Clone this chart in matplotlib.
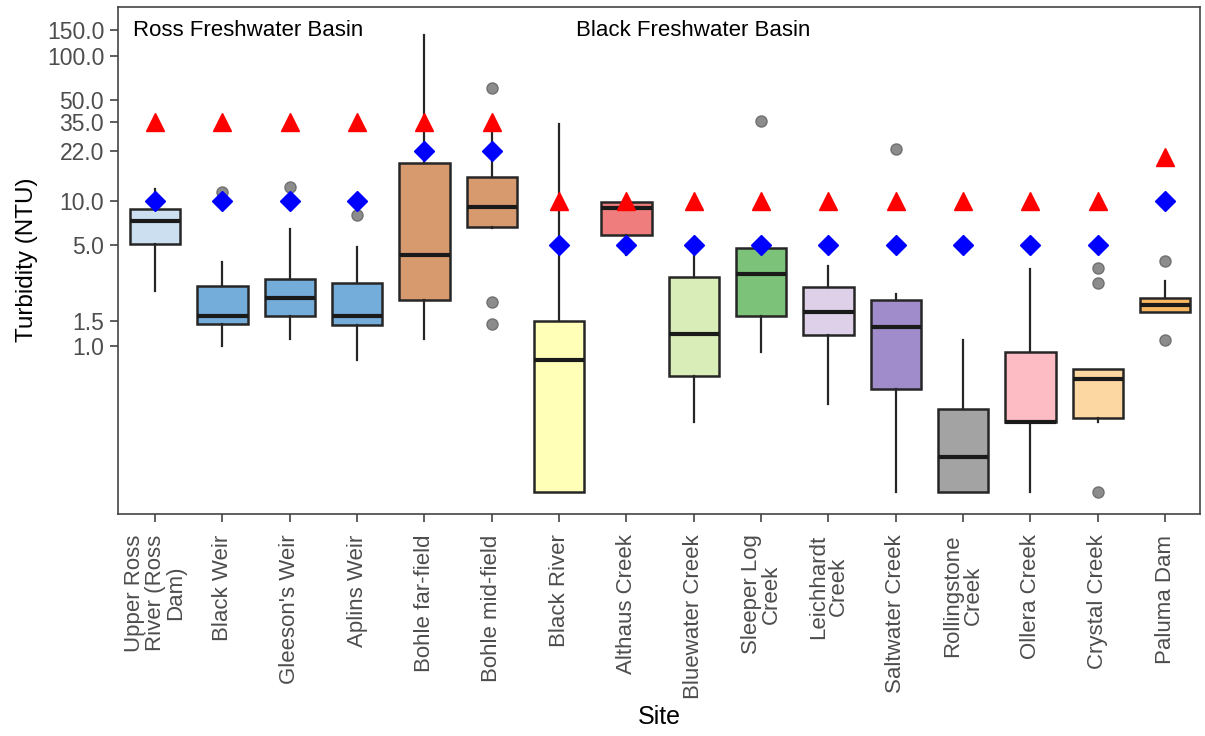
import matplotlib

matplotlib.use("Agg")
import matplotlib.pyplot as plt
from matplotlib.ticker import FixedLocator, NullLocator

plt.rcParams["font.family"] = ["Liberation Sans", "DejaVu Sans"]

sites = [
    "Upper Ross\nRiver (Ross\nDam)",
    "Black Weir",
    "Gleeson's Weir",
    "Aplins Weir",
    "Bohle far-field",
    "Bohle mid-field",
    "Black River",
    "Althaus Creek",
    "Bluewater Creek",
    "Sleeper Log\nCreek",
    "Leichhardt\nCreek",
    "Saltwater Creek",
    "Rollingstone\nCreek",
    "Ollera Creek",
    "Crystal Creek",
    "Paluma Dam",
]

# box statistics, NTU
q1 = [5.05, 1.42, 1.61, 1.40, 2.08, 6.62, 0.10, 5.83, 0.63, 1.61, 1.19, 0.51, 0.10, 0.30, 0.32, 1.72]
med = [7.28, 1.61, 2.14, 1.61, 4.24, 9.09, 0.81, 8.95, 1.21, 3.14, 1.72, 1.37, 0.174, 0.30, 0.60, 1.92]
q3 = [8.81, 2.59, 2.90, 2.72, 18.3, 14.6, 1.49, 9.84, 2.99, 4.74, 2.55, 2.08, 0.37, 0.92, 0.70, 2.14]
whislo = [2.39, 1.0, 1.12, 0.81, 1.12, 6.5, 0.10, 4.24, 0.30, 0.91, 0.40, 0.10, 0.10, 0.10, 0.30, 1.72]
whishi = [12.1, 3.8, 6.41, 4.82, 140.0, 30.9, 34.0, 9.84, 5.0, 4.9, 3.56, 2.28, 1.1, 3.4, 0.70, 2.81]
fliers = [
    [], [11.6], [12.5], [8.0], [], [60.2, 2.01, 1.42], [], [], [],
    [35.7], [], [22.8], [], [], [3.45, 2.72, 0.10], [3.85, 1.1],
]

# guideline values
trigger = [35, 35, 35, 35, 35, 35, 10, 10, 10, 10, 10, 10, 10, 10, 10, 20]
wqo = [10, 10, 10, 10, 22, 22, 5, 5, 5, 5, 5, 5, 5, 5, 5, 10]

colors = [
    "#CCDFF0", "#74ADDA", "#74ADDA", "#74ADDA", "#D79A6E", "#D79A6E",
    "#FFFFB8", "#EF7D7D", "#D8EDB8", "#7CC279", "#DDD0E8", "#A08BCB",
    "#A3A3A3", "#FDBCC4", "#FDD7A1", "#F8B763",
]

yticks = [1.0, 1.5, 5.0, 10.0, 22.0, 35.0, 50.0, 100.0, 150.0]

fig = plt.figure(figsize=(12.05, 7.36), dpi=100)
ax = fig.add_axes([0.098, 0.302, 0.898, 0.689])

stats = []
for i in range(len(sites)):
    stats.append(
        {
            "q1": q1[i],
            "med": med[i],
            "q3": q3[i],
            "whislo": whislo[i],
            "whishi": whishi[i],
            "fliers": fliers[i],
        }
    )

pos = list(range(len(sites)))
bp = ax.bxp(
    stats,
    positions=pos,
    widths=0.75,
    patch_artist=True,
    showcaps=False,
    boxprops=dict(edgecolor="#262626", linewidth=1.8),
    whiskerprops=dict(color="#262626", linewidth=1.6),
    medianprops=dict(color="#1a1a1a", linewidth=3),
    flierprops=dict(marker="o", markerfacecolor="#808080", markeredgecolor="#6a6a6a",
                    markersize=8, alpha=0.9),
)
for patch, c in zip(bp["boxes"], colors):
    patch.set_facecolor(c)

ax.plot(pos, trigger, linestyle="none", marker="^", color="#FF0000", markersize=13, zorder=5)
ax.plot(pos, wqo, linestyle="none", marker="D", color="#0000FF", markersize=10, zorder=5)

ax.set_yscale("log")
ax.set_ylim(0.0705, 218)
ax.set_xlim(-0.55, 15.52)
ax.yaxis.set_major_locator(FixedLocator(yticks))
ax.yaxis.set_minor_locator(NullLocator())
ax.set_yticklabels([f"{v:.1f}" for v in yticks], fontsize=16.5, color="#4d4d4d")
ax.set_xticks(pos)
ax.set_xticklabels(sites, rotation=90, ha="center", va="top", multialignment="center",
                   linespacing=0.95, fontsize=16, color="#4d4d4d")
ax.tick_params(axis="both", length=6, width=1.2, color="#444444")
ax.tick_params(axis="x", pad=9)
ax.tick_params(axis="y", pad=4)

for s in ax.spines.values():
    s.set_color("#444444")
    s.set_linewidth(1.2)

ax.set_ylabel("Turbidity (NTU)", fontsize=17.5, labelpad=6)
ax.set_xlabel("Site", fontsize=18)
ax.xaxis.set_label_coords(0.5, -0.378)

ax.text(-0.33, 150, "Ross Freshwater Basin", fontsize=16, va="center", ha="left")
ax.text(6.25, 150, "Black Freshwater Basin", fontsize=16, va="center", ha="left")

fig.savefig("out.png", dpi=100)
